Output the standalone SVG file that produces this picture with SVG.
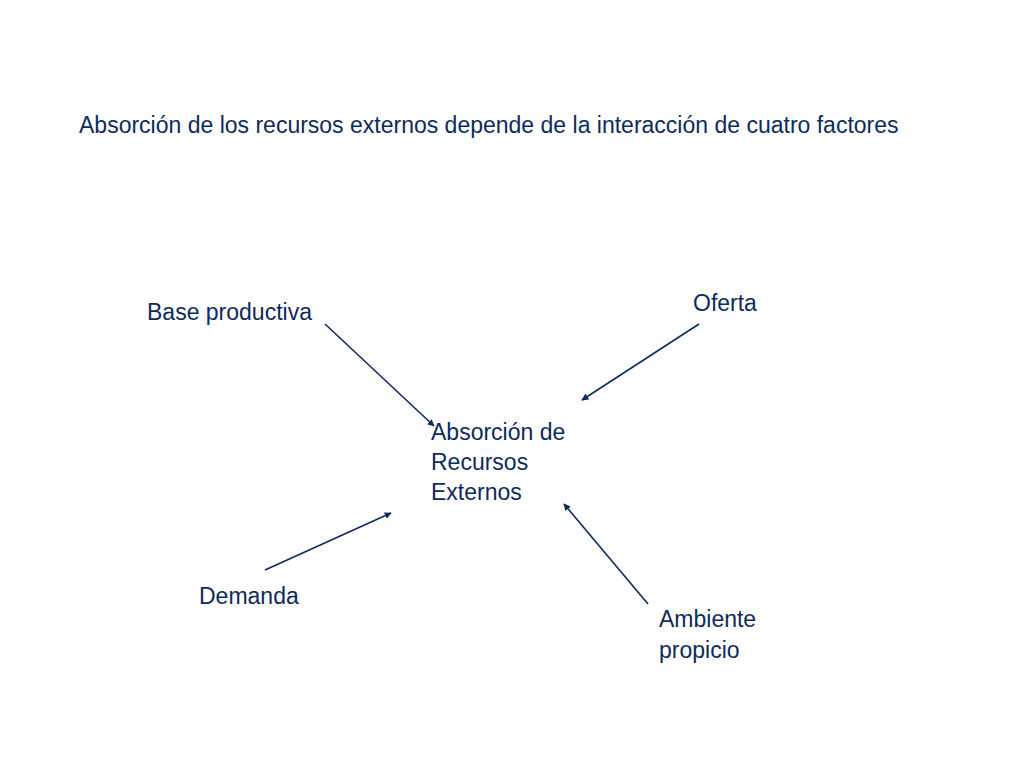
<svg xmlns="http://www.w3.org/2000/svg" width="1024" height="768" viewBox="0 0 1024 768">
<style>
text{font-family:"Liberation Sans",Arial,sans-serif;font-size:23px;fill:#0d2b5c}
.c{stroke:#0d2b5c;stroke-width:1.6;fill:none;marker-end:url(#a)}
</style>
<defs><marker id="a" viewBox="0 0 10 10" refX="9" refY="5" markerWidth="7" markerHeight="7" orient="auto" markerUnits="userSpaceOnUse" ><path d="M0,0L10,5L0,10z" fill="#0d2b5c"/></marker></defs>
<rect width="1024" height="768" fill="#fff"/>
<g id="title"><text x="79" y="133">Absorción de los recursos externos depende de la interacción de cuatro factores</text></g>
<g id="center"><text x="431" y="440">Absorción de</text><text x="431" y="470">Recursos</text><text x="431" y="500">Externos</text></g>
<g id="base"><text x="147" y="320">Base productiva</text></g>
<g id="oferta"><text x="693" y="311">Oferta</text></g>
<g id="demanda"><text x="199" y="604">Demanda</text></g>
<g id="ambiente"><text x="659" y="627">Ambiente</text><text x="659" y="658">propicio</text></g>
<g id="connectors">
<path class="c" d="M325,324L434,426"/>
<path class="c" d="M699,324L582,400"/>
<path class="c" d="M265,570L391,513"/>
<path class="c" d="M648,604L564,504"/>
</g>
</svg>
